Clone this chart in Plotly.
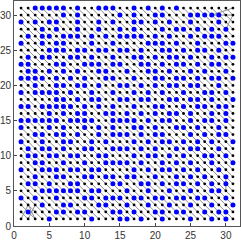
import plotly.graph_objects as go

# Node state grid: rows from y=31 (top) down to y=1; columns x=1..31
# '1' = blue (large) node, '0' = black (small) node
rows = [
    "0011111" "01001110" "01010101" "00000000",  # y=31
    "0000001" "01000001" "01001100" "01111100",  # y=30
    "1010110" "01001010" "01101010" "01000100",  # y=29
    "0001010" "01001001" "01000101" "10101010",  # y=28
    "0101101" "11010101" "11101010" "01011100",  # y=27
    "1001011" "00010010" "00011101" "00100011",  # y=26
    "0000111" "01101101" "10100110" "10110100",  # y=25
    "0101100" "11010010" "01101011" "01001011",  # y=24
    "1100011" "00111011" "00110101" "10101100",  # y=23
    "0110101" "01001100" "10011010" "01010010",  # y=22
    "1111010" "10100110" "01001101" "10101101",  # y=21
    "0010011" "01101001" "10101011" "01100100",  # y=20
    "1011110" "10010010" "01010100" "10011010",  # y=19
    "0000011" "01011001" "10110011" "01101001",  # y=18
    "1101111" "10101010" "01001100" "10110110",  # y=17
    "0000101" "01100110" "10101011" "01001010",  # y=16
    "1111110" "11110011" "11010110" "01011010",  # y=15
    "1000101" "00101010" "01101001" "10100100",  # y=14
    "0011011" "01001011" "10101100" "01010110",  # y=13
    "1001001" "10010100" "01010110" "10101001",  # y=12
    "0101101" "00110011" "10101001" "01100100",  # y=11
    "0110110" "11001100" "01011010" "10011010",  # y=10
    "0011001" "00100111" "10100101" "01001001",  # y=9
    "1001110" "11011000" "01010110" "10100100",  # y=8
    "0010011" "00110110" "11001001" "01010010",  # y=7
    "0110100" "11000011" "00110101" "10101010",  # y=6
    "0001111" "11011000" "10010010" "01001100",  # y=5
    "1010010" "00110111" "01101101" "10110010",  # y=4
    "0001001" "10001100" "10010010" "01001001",  # y=3
    "0100011" "01100011" "01001101" "10010110",  # y=2
    "0000100" "00010001" "10100100" "01001010",  # y=1
]
n = 31

# Extra (non-diagonal) edges seen in the picture, as node pairs
extra_edges = [
    ((1, 1), (2, 3)), ((2, 3), (3, 1)), ((2, 1), (3, 3)),
    ((28, 30), (31, 31)), ((28, 30), (31, 30)), ((30, 28), (31, 30)),
    ((30, 5), (30, 7)),
]
tick_vals = [0, 5, 10, 15, 20, 25, 30]

bx, by, kx, ky = [], [], [], []
for r, s in enumerate(rows):
    y = n - r
    for c, ch in enumerate(s):
        x = c + 1
        if ch == "1":
            bx.append(x); by.append(y)
        else:
            kx.append(x); ky.append(y)

lx, ly = [], []
for x in range(1, n):
    for y in range(2, n + 1):
        lx += [x, x + 1, None]
        ly += [y, y - 1, None]
for (a, b) in extra_edges:
    lx += [a[0], b[0], None]
    ly += [a[1], b[1], None]

fig = go.Figure()
fig.add_trace(go.Scatter(x=lx, y=ly, mode="lines",
                         line=dict(color="#8f8f8f", width=1), hoverinfo="skip"))
fig.add_trace(go.Scatter(x=kx, y=ky, mode="markers",
                         marker=dict(color="black", size=2.8, line=dict(width=0))))
fig.add_trace(go.Scatter(x=bx, y=by, mode="markers",
                         marker=dict(color="#0000ff", size=5, line=dict(width=0))))

axis = dict(range=[0, 32], tickvals=tick_vals, ticks="inside", ticklen=3,
            tickcolor="#444", showgrid=False, zeroline=False, showline=True,
            linecolor="#555", linewidth=1, mirror=True,
            tickfont=dict(family="Liberation Sans, Arial", size=10, color="#333"))
fig.update_layout(width=241, height=241, showlegend=False,
                  margin=dict(l=12, r=1, t=0, b=11),
                  paper_bgcolor="white", plot_bgcolor="white",
                  xaxis=axis, yaxis=axis)
fig.write_html("out.html", config={"displayModeBar": False, "staticPlot": True},
               post_script="document.body.style.margin='0';document.body.style.overflow='hidden';")
